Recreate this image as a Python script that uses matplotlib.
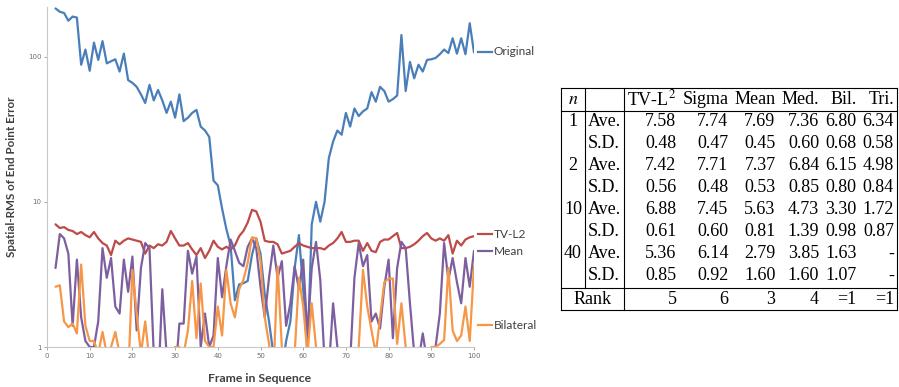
import numpy as np
import matplotlib
matplotlib.use("Agg")
import matplotlib.pyplot as plt
from matplotlib.lines import Line2D

# ---------------- data ----------------
frames = list(range(2, 101))

original = [215, 204, 200, 177, 189, 186, 88, 112, 80, 125, 95, 128, 90, 93, 96, 79, 105, 69, 66, 62,
            55, 48, 64, 50, 59, 50, 41, 49, 38, 55, 36, 38, 41, 43, 33, 31, 28, 14, 13, 9,
            6.5, 5.0, 2.1, 2.7, 2.75, 2.85, 4.3, 5.6, 4.4, 2.3, 1.5, 0.9, 0.6, 0.7, 1.1, 1.5, 3.5, 5.9, 2.5, 0.9,
            7.0, 10, 7.3, 10, 20, 26, 31, 29, 41, 33, 44, 39, 42, 44, 57, 49, 62, 58, 49, 51,
            54, 141, 58, 92, 71, 88, 79, 95, 96, 98, 104, 112, 106, 134, 105, 134, 104, 170, 107]

tvl2 = [7.0, 6.6, 6.7, 6.4, 6.3, 6.0, 6.2, 5.9, 5.7, 6.2, 5.6, 5.2, 5.0, 4.3, 5.4, 5.1, 5.4, 5.6, 5.5, 5.4,
        5.3, 4.4, 5.0, 4.8, 5.1, 5.0, 5.3, 6.3, 5.6, 5.0, 5.0, 5.2, 4.7, 4.3, 4.8, 4.1, 4.6, 5.4, 4.9, 4.7,
        4.9, 4.7, 5.0, 5.8, 6.3, 7.2, 8.8, 8.6, 7.3, 5.4, 5.3, 5.3, 5.1, 4.4, 4.5, 4.6, 4.9, 5.2, 5.0, 4.9,
        4.8, 4.8, 4.8, 4.7, 5.0, 5.2, 5.6, 6.2, 5.3, 5.3, 5.4, 5.4, 4.6, 5.2, 4.6, 4.5, 5.3, 5.5, 5.5, 5.8,
        6.1, 4.8, 4.8, 4.9, 5.1, 5.4, 5.8, 6.1, 5.6, 5.4, 5.6, 5.4, 5.9, 4.4, 5.4, 5.0, 5.5, 5.7, 5.8]

mean = [3.5, 6.0, 5.6, 4.4, 1.4, 4.0, 1.6, 1.1, 1.0, 1.0, 1.5, 4.8, 3.0, 4.1, 1.9, 1.7, 4.0, 2.4, 4.2, 1.3,
        3.5, 5.2, 4.8, 0.9, 0.5, 2.5, 0.9, 0.5, 0.6, 1.45, 1.45, 4.6, 3.2, 4.2, 1.0, 1.7, 1.0, 1.2, 4.1, 2.2,
        3.6, 5.5, 4.6, 3.8, 3.6, 4.9, 5.6, 4.8, 2.6, 1.6, 3.0, 5.0, 3.0, 3.9, 1.4, 2.0, 3.6, 2.5, 4.0, 1.2,
        3.5, 5.3, 2.9, 0.8, 0.7, 2.0, 1.0, 0.6, 0.5, 0.8, 3.0, 5.2, 3.6, 4.3, 1.5, 1.7, 1.34, 2.6, 4.0, 1.15,
        3.5, 5.3, 4.8, 2.0, 0.9, 0.8, 1.24, 0.8, 0.6, 1.0, 1.7, 5.2, 2.9, 4.1, 2.8, 2.0, 4.1, 2.6, 4.6]

bilateral = [2.6, 2.66, 1.5, 1.37, 1.45, 1.24, 3.7, 1.4, 1.1, 1.1, 0.9, 1.27, 0.9, 1.0, 1.27, 0.9, 0.5, 0.6, 3.4, 1.7,
             0.9, 1.5, 0.8, 0.5, 0.5, 0.5, 0.5, 0.6, 1.0, 1.0, 0.9, 1.3, 2.85, 1.15, 2.74, 1.1, 1.0, 1.0, 1.9, 1.2,
             3.4, 2.0, 1.6, 2.5, 2.9, 3.8, 5.7, 5.6, 3.9, 1.6, 1.05, 0.6, 3.6, 1.0, 0.5, 0.5, 0.9, 3.0, 1.9, 0.9,
             2.0, 1.0, 0.5, 0.5, 0.5, 0.5, 0.5, 0.5, 0.5, 0.5, 0.5, 1.0, 3.4, 1.9, 1.3, 0.9, 1.6, 2.8, 2.96, 2.96,
             1.05, 2.0, 1.0, 0.5, 0.5, 0.5, 0.5, 0.5, 1.0, 1.0, 1.05, 1.12, 3.5, 1.3, 1.1, 1.2, 1.9, 1.1, 3.6]

series_names = ["Original", "TV-L2", "Mean", "Bilateral"]
series_label_y = [108, 6.0, 4.57, 1.41]

x_ticks = [0, 10, 20, 30, 40, 50, 60, 70, 80, 90, 100]
y_ticks = [1, 10, 100]

# table
methods = ["TV-L$^2$", "Sigma", "Mean", "Med.", "Bil.", "Tri."]
n_values = ["1", "2", "10", "40"]
ave = [["7.58", "7.74", "7.69", "7.36", "6.80", "6.34"],
       ["7.42", "7.71", "7.37", "6.84", "6.15", "4.98"],
       ["6.88", "7.45", "5.63", "4.73", "3.30", "1.72"],
       ["5.36", "6.14", "2.79", "3.85", "1.63", "-"]]
sd = [["0.48", "0.47", "0.45", "0.60", "0.68", "0.58"],
      ["0.56", "0.48", "0.53", "0.85", "0.80", "0.84"],
      ["0.61", "0.60", "0.81", "1.39", "0.98", "0.87"],
      ["0.85", "0.92", "1.60", "1.60", "1.07", "-"]]
rank = ["5", "6", "3", "4", "=1", "=1"]

# ---------------- figure ----------------
W, H = 899, 387
fig = plt.figure(figsize=(W / 100, H / 100), dpi=100)
fig.patch.set_facecolor("white")
plt.rcParams["mathtext.fontset"] = "stix"

def fx(px):
    return px / W

def fy(py):
    return 1 - py / H

ax = fig.add_axes([fx(47), fy(347), fx(474) - fx(47), fy(7) - fy(347)])
colors = ["#4A7EBB", "#BE4B48", "#7D5FA0", "#F79646"]
for vals, c in zip([original, tvl2, mean, bilateral], colors):
    ax.plot(frames, vals, color=c, lw=1.6, solid_joinstyle="round", solid_capstyle="round")

ax.set_yscale("log")
ax.set_ylim(1, 220)
ax.set_xlim(0, 100)
ax.set_xticks(x_ticks)
ax.set_yticks(y_ticks)
ax.set_yticklabels([str(t) for t in y_ticks])
ax.yaxis.set_minor_locator(matplotlib.ticker.NullLocator())
ax.tick_params(axis="both", labelsize=5, colors="#9a9a9a", length=2, width=0.6, pad=2)
ax.tick_params(axis="both", labelcolor="#707070")
for s in ["top", "right"]:
    ax.spines[s].set_visible(False)
for s in ["left", "bottom"]:
    ax.spines[s].set_color("#c8c8c8")
    ax.spines[s].set_linewidth(0.8)

lab_font = dict(family=["Lato", "DejaVu Sans"], fontweight="bold", color="#404040")
fig.text(fx(12), fy(177), "Spatial-RMS of End Point Error", rotation=90, ha="center", va="center",
         fontsize=8.4, **lab_font)
fig.text(fx(260), fy(378), "Frame in Sequence", ha="center", va="center", fontsize=8.8, **lab_font)

for name, yv, c in zip(series_names, series_label_y, colors):
    ax.plot([101, 104.2], [yv, yv], color=c, lw=1.6, clip_on=False)
    ax.text(104.6, yv, name, ha="left", va="center", fontsize=8.6, family=["Lato", "DejaVu Sans"],
            color="#404040", clip_on=False)

# ---------------- table ----------------
tfont = dict(family=["Liberation Serif", "DejaVu Serif"], fontsize=13, color="black")
renderer = fig.canvas.get_renderer()

def text_w(s):
    t = fig.text(0, 0, s, **tfont)
    w = t.get_window_extent(renderer=renderer).width
    t.remove()
    return w

x_left, x_right = 561, 897
sep = 3.0
col_w = [max(text_w(s) for s in ["$n$"] + n_values),
         max(text_w(s) for s in ["Ave.", "S.D."])]
for j in range(6):
    cells = [methods[j], rank[j]] + [r[j] for r in ave] + [r[j] for r in sd]
    col_w.append(max(text_w(s) for s in cells))
extra = ((x_right - x_left) - sum(col_w)) / (2 * len(col_w))
sep = max(extra, 1.0)
edges = [x_left]
for w in col_w:
    edges.append(edges[-1] + w + 2 * sep)

head_y = 99
row_y = [122, 144, 166, 188, 210, 232, 254, 276]
rank_y = 299
t_top, t_head, t_rank, t_bot = 88, 111, 288, 310

n_c = (edges[0] + edges[1]) / 2
lab_l = edges[1] + sep
col_right = [edges[k + 3] - sep for k in range(6)]

fig.text(fx(n_c), fy(head_y), "$n$", ha="center", va="center", **tfont)
for m, xr in zip(methods, col_right):
    fig.text(fx(xr), fy(head_y), m, ha="right", va="center", **tfont)

for i, nv in enumerate(n_values):
    ya = row_y[2 * i]
    ys = row_y[2 * i + 1]
    fig.text(fx(n_c), fy(ya), nv, ha="center", va="center", **tfont)
    fig.text(fx(lab_l), fy(ya), "Ave.", ha="left", va="center", **tfont)
    fig.text(fx(lab_l), fy(ys), "S.D.", ha="left", va="center", **tfont)
    for j in range(6):
        fig.text(fx(col_right[j]), fy(ya), ave[i][j], ha="right", va="center", **tfont)
        fig.text(fx(col_right[j]), fy(ys), sd[i][j], ha="right", va="center", **tfont)

fig.text(fx((edges[0] + edges[2]) / 2), fy(rank_y), "Rank", ha="center", va="center", **tfont)
for j in range(6):
    fig.text(fx(col_right[j]), fy(rank_y), rank[j], ha="right", va="center", **tfont)

def hline(y, x0, x1):
    fig.add_artist(Line2D([fx(x0), fx(x1)], [fy(y), fy(y)], color="black", lw=0.8))

def vline(x, y0, y1):
    fig.add_artist(Line2D([fx(x), fx(x)], [fy(y0), fy(y1)], color="black", lw=0.8))

xr_end = edges[-1]
hline(t_top, x_left, xr_end)
hline(t_head, x_left, xr_end)
hline(t_rank, x_left, xr_end)
hline(t_bot, x_left, xr_end)
vline(x_left, t_top, t_bot)
vline(xr_end, t_top, t_bot)
vline(edges[1], t_top, t_rank)
vline(edges[2], t_top, t_bot)

fig.savefig("out.png", dpi=100, facecolor="white")
